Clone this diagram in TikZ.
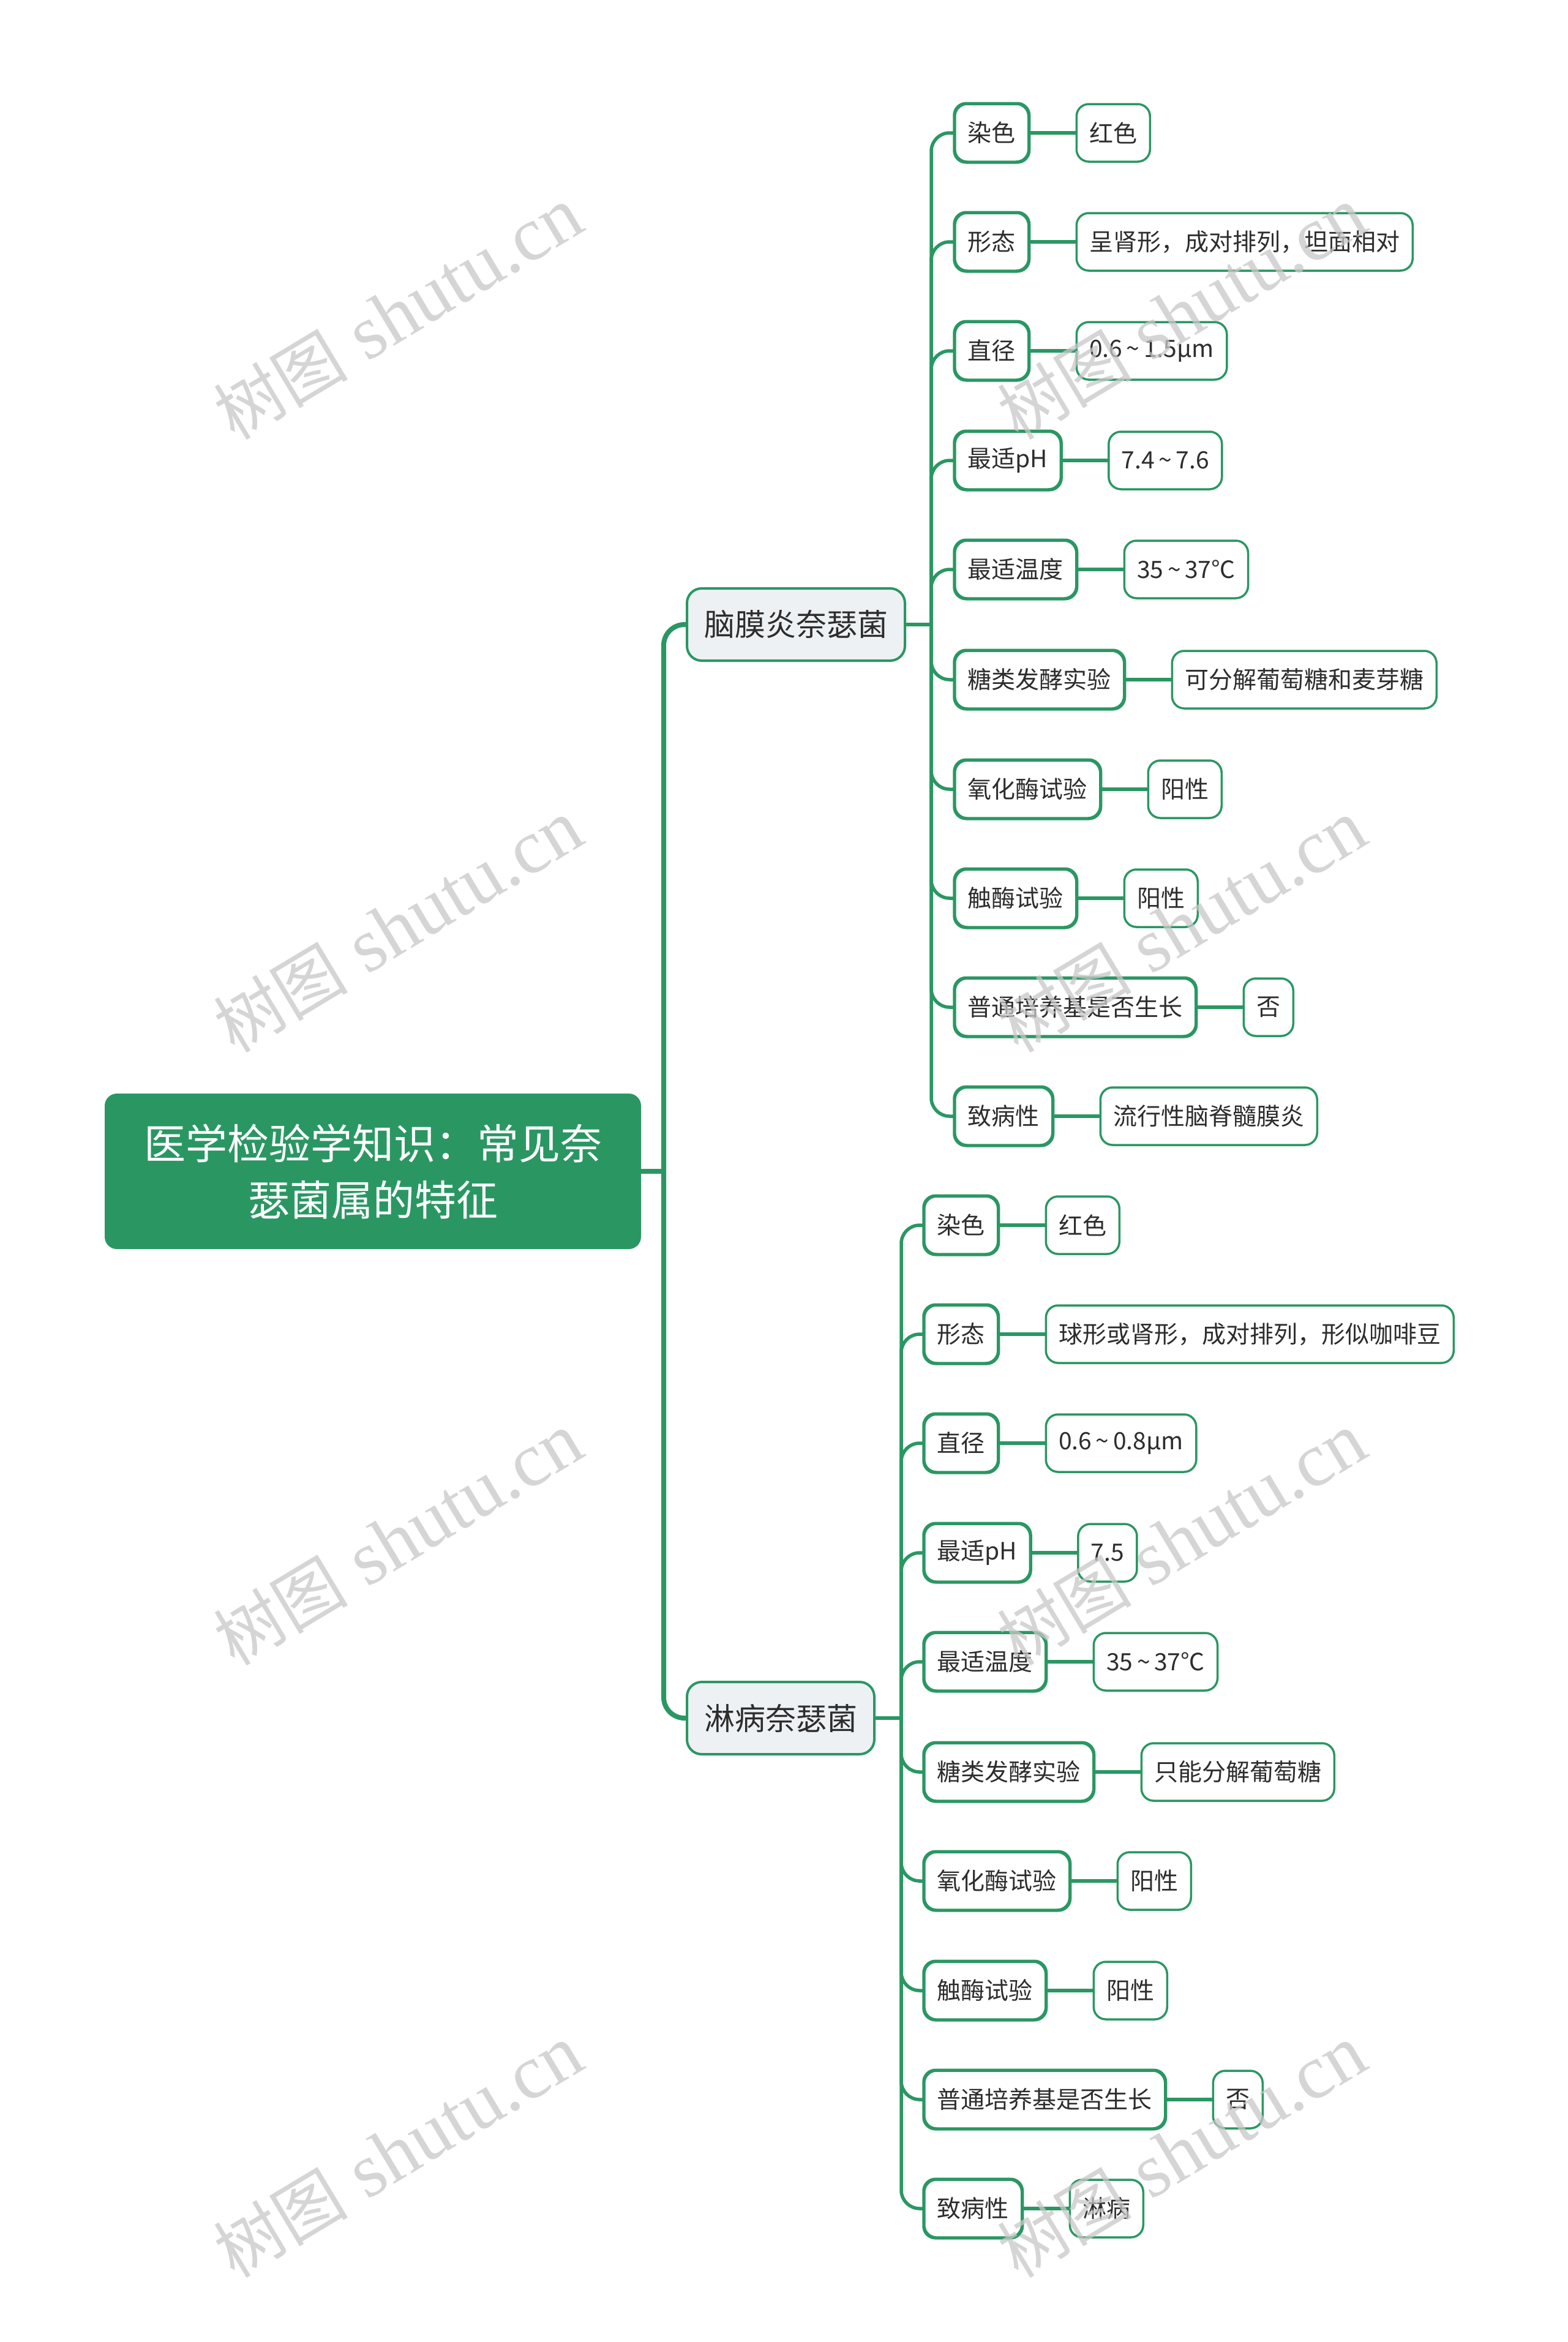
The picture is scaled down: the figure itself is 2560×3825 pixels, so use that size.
\documentclass[tikz,border=0pt]{standalone}
\usepackage{fontspec}
\setmainfont{Noto Sans CJK SC}
\newfontfamily\wmserif{Liberation Serif}
\newfontfamily\wmcjk{Noto Sans CJK SC}
\usetikzlibrary{positioning}
\definecolor{mgreen}{RGB}{42,151,99}
\definecolor{txt}{RGB}{45,45,45}
\definecolor{subfill}{RGB}{238,241,244}
\definecolor{wm}{RGB}{200,200,200}
\newcommand{\tl}{\,{\textasciitilde}\,}
\begin{document}
\begin{tikzpicture}[x=1pt,y=-1pt,
  leaf/.style={draw=mgreen, line width=3.5pt, fill=white, rounded corners=20pt,
    minimum height=94pt, inner xsep=21pt, inner ysep=0pt, text=txt,
    font=\fontsize{39}{47}\selectfont, anchor=west},
  subbox/.style={draw=mgreen, line width=4pt, fill=subfill, rounded corners=24pt,
    minimum height=118pt, inner xsep=28pt, text=txt,
    font=\fontsize{50}{60}\selectfont, anchor=west},
  rootbox/.style={fill=mgreen, rounded corners=20pt, minimum width=876pt,
    minimum height=254pt, text=white, font=\fontsize{68}{92}\selectfont, align=center},
  conn/.style={draw=mgreen, line width=5.5pt, rounded corners=30pt},
  trunkline/.style={draw=mgreen, line width=8pt, rounded corners=34pt},
  wmark/.style={text=wm, rotate=31, inner sep=0pt}
]
\fill[white] (0,0) rectangle (2560,3825);
\useasboundingbox (0,0) rectangle (2560,3825);

% root
\node[rootbox] (root) at (609,1913) {医学检验学知识：常见奈\\瑟菌属的特征};

% branches
\node[subbox] (b1) at (1120,1020) {脑膜炎奈瑟菌};
\node[subbox] (b2) at (1120,2806) {淋病奈瑟菌};

\coordinate (t) at (1084,1913);
\coordinate (j1) at (1521,1020);
\coordinate (j2) at (1472,2806);

\draw[trunkline] (root.east) -- (t);
\draw[trunkline] (t) |- (b1.west);
\draw[trunkline] (t) |- (b2.west);
\draw[conn] (b1.east) -- (j1);
\draw[conn] (b2.east) -- (j2);

% branch 1 leaves
\foreach \i/\y/\a/\b in {
  1/217/染色/红色,
  2/395/形态/呈肾形，成对排列，坦面相对,
  3/573/直径/0.6\tl 1.5μm,
  4/752/最适pH/7.4\tl 7.6,
  5/930/最适温度/35\tl 37℃,
  6/1110/糖类发酵实验/可分解葡萄糖和麦芽糖,
  7/1289/氧化酶试验/阳性,
  8/1467/触酶试验/阳性,
  9/1645/普通培养基是否生长/否,
  10/1823/致病性/流行性脑脊髓膜炎}{
  \draw[conn] (j1) |- (1560,\y);
  \node[leaf] (m\i) at (1558,\y) {\a};
  \node[leaf, right=75pt of m\i] (mv\i) {\b};
  \draw[conn] (m\i.east) -- (mv\i.west);
}

% branch 2 leaves
\foreach \i/\y/\a/\b in {
  1/2001/染色/红色,
  2/2179/形态/球形或肾形，成对排列，形似咖啡豆,
  3/2357/直径/0.6\tl 0.8μm,
  4/2536/最适pH/7.5,
  5/2714/最适温度/35\tl 37℃,
  6/2894/糖类发酵实验/只能分解葡萄糖,
  7/3072/氧化酶试验/阳性,
  8/3251/触酶试验/阳性,
  9/3429/普通培养基是否生长/否,
  10/3607/致病性/淋病}{
  \draw[conn] (j2) |- (1510,\y);
  \node[leaf] (g\i) at (1508,\y) {\a};
  \node[leaf, right=75pt of g\i] (gv\i) {\b};
  \draw[conn] (g\i.east) -- (gv\i.west);
}

% redraw leaf borders over connector ends
\foreach \i in {1,...,10}{
  \draw[draw=mgreen, line width=3.5pt, rounded corners=20pt] (m\i.south west) rectangle (m\i.north east);
  \draw[draw=mgreen, line width=3.5pt, rounded corners=20pt] (g\i.south west) rectangle (g\i.north east);
}

% watermarks
\foreach \n/\x/\y in {w1/650/512, w2/650/1513, w3/650/2514, w4/650/3514,
                      w5/1930/512, w6/1930/1513, w7/1930/2514, w8/1930/3514}{
  \node[wmark, opacity=0.75] (\n) at (\x,\y) {{\wmcjk\fontsize{110}{120}\selectfont 树图}\hspace{32pt}{\wmserif\fontsize{125}{130}\selectfont shutu.cn}};
}
\end{tikzpicture}
\end{document}
